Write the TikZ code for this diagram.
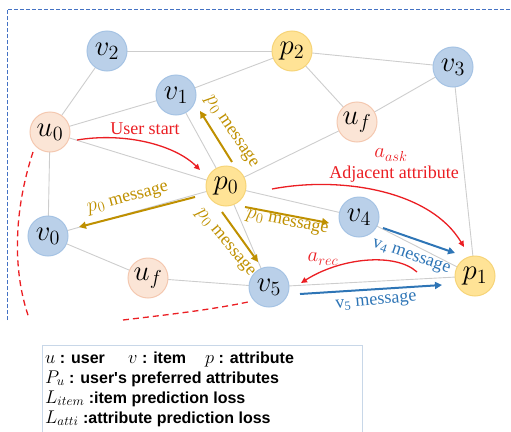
\RequirePackage{fix-cm}
\documentclass[tikz,border=0pt]{standalone}
\usepackage{fontspec}
\setmainfont{Liberation Serif}
\newfontfamily\legfont{Liberation Sans}
\usetikzlibrary{arrows.meta}
\definecolor{vblue}{RGB}{186,208,233}
\definecolor{vblueb}{RGB}{165,195,228}
\definecolor{pyel}{RGB}{255,227,150}
\definecolor{pyelb}{RGB}{246,212,120}
\definecolor{upch}{RGB}{251,229,214}
\definecolor{upchb}{RGB}{244,200,176}
\definecolor{edgegray}{RGB}{205,205,205}
\definecolor{gold}{RGB}{191,144,0}
\definecolor{mblue}{RGB}{46,117,182}
\definecolor{myred}{RGB}{235,30,35}
\definecolor{frameblue}{RGB}{68,114,196}
\definecolor{legb}{RGB}{200,215,232}
\newcommand\Gmath[1]{\scalebox{1.15}{$#1$}}
\newcommand\Lmath[1]{\scalebox{1.15}{$#1$}}
\newcommand\Nmath[1]{\scalebox{1.2}{$#1$}}
\begin{document}
\begin{tikzpicture}[x=1pt,y=-1pt,
  nd/.style={circle,minimum size=40pt,inner sep=0pt,line width=1pt,font=\fontsize{24}{24}\selectfont},
  vn/.style={nd,fill=vblue,draw=vblueb},
  pn/.style={nd,fill=pyel,draw=pyelb},
  un/.style={nd,fill=upch,draw=upchb},
  ed/.style={draw=edgegray,line width=0.9pt},
  garr/.style={gold,line width=2pt,-{Triangle[length=7pt,width=7pt]}},
  barr/.style={mblue,line width=2pt,-{Triangle[length=7pt,width=7pt]}},
  rarr/.style={myred,line width=1.3pt,-{Triangle[length=6pt,width=5.5pt]}},
  lab/.style={font=\fontsize{18}{20}\selectfont,inner sep=0pt},
  glab/.style={lab,text=gold},
  blab/.style={lab,text=mblue},
  rlab/.style={lab,text=myred},
  leg/.style={font=\fontsize{16}{18}\selectfont\legfont\bfseries,inner sep=0pt,anchor=base west}
]
\useasboundingbox (0,0) rectangle (511,431);

% frame
\draw[frameblue,line width=1pt,dash pattern=on 4pt off 2pt] (7,320) -- (7,9) -- (511,9);

% red dashed arcs
\draw[myred,line width=1.3pt,dash pattern=on 6pt off 4pt] (33,152) .. controls (14,210) and (12,270) .. (29,318);
\draw[myred,line width=1.3pt,dash pattern=on 6pt off 4pt] (123,320) .. controls (165,315) and (210,310) .. (248,302);

% node positions
\coordinate (v2) at (107,51);
\coordinate (v1) at (176,95);
\coordinate (u0) at (50,132);
\coordinate (p2) at (292,51);
\coordinate (v3) at (453,67);
\coordinate (uf1) at (357,122);
\coordinate (p0) at (226,186);
\coordinate (v0) at (48,236);
\coordinate (uf2) at (148,278);
\coordinate (v5) at (269,287);
\coordinate (v4) at (359,217);
\coordinate (p1) at (475,276);

% edges
\foreach \a/\b in {v2/p2,v2/u0,u0/v1,v1/p2,p2/v3,p2/uf1,uf1/v3,uf1/p0,v3/p1,u0/p0,u0/v0,v1/p0,p0/v0,p0/v4,p0/v5,v0/uf2,uf2/v5,v5/p1,v4/p1}
  \draw[ed] (\a) -- (\b);

% nodes
\node[vn] (nv2) at (v2) {\Nmath{v_2}};
\node[vn] (nv1) at (v1) {\Nmath{v_1}};
\node[un] (nu0) at (u0) {\Nmath{u_0}};
\node[pn] (np2) at (p2) {\Nmath{p_2}};
\node[vn] (nv3) at (v3) {\Nmath{v_3}};
\node[un] (nuf1) at (uf1) {\Nmath{u_f}};
\node[pn] (np0) at (p0) {\Nmath{p_0}};
\node[vn] (nv0) at (v0) {\Nmath{v_0}};
\node[un] (nuf2) at (uf2) {\Nmath{u_f}};
\node[vn] (nv5) at (v5) {\Nmath{v_5}};
\node[vn] (nv4) at (v4) {\Nmath{v_4}};
\node[pn] (np1) at (p1) {\Nmath{p_1}};

% arrow end coordinates
\coordinate (us1) at (77,140);   \coordinate (us2) at (200,170);
\coordinate (g1a) at (232,162);  \coordinate (g1b) at (200,111);
\coordinate (g2a) at (195,197);  \coordinate (g2b) at (79,227);
\coordinate (g3a) at (222,212);  \coordinate (g3b) at (258,262);
\coordinate (g4a) at (245,207);  \coordinate (g4b) at (329,223);
\coordinate (aa1) at (272,189);  \coordinate (aa2) at (464,247);
\coordinate (b4a) at (383,228);  \coordinate (b4b) at (455,253);
\coordinate (ar1) at (417,272);  \coordinate (ar2) at (301,283);
\coordinate (b5a) at (300,294);  \coordinate (b5b) at (442,285);

% red arrows
\draw[rarr] (us1) .. controls (125,132) and (175,145) .. (us2);
\draw[rarr] (aa1) .. controls (340,176) and (430,190) .. (aa2);
\draw[rarr] (ar1) .. controls (395,252) and (340,258) .. (ar2);

% gold arrows
\draw[garr] (g1a) -- (g1b);
\draw[garr] (g2a) -- (g2b);
\draw[garr] (g3a) -- (g3b);
\draw[garr] (g4a) -- (g4b);

% blue arrows
\draw[barr] (b4a) -- (b4b);
\draw[barr] (b5a) -- (b5b);

% labels
\node[rlab] (lus) at (145,129) {User start};
\node[rlab] (lask) at (391,155) {\Gmath{a_{ask}}};
\node[rlab] (ladj) at (394,174) {Adjacent attribute};
\node[rlab] (lrec) at (323,259) {\Gmath{a_{rec}}};
\node[glab,rotate=-56] (lg1) at (231,132) {\Gmath{p_0} message};
\node[glab,rotate=15] (lg2) at (128,199) {\Gmath{p_0} message};
\node[glab,rotate=-50] (lg3) at (225,243) {\Gmath{p_0} message};
\node[glab,rotate=-11] (lg4) at (287,223) {\Gmath{p_0} message};
\node[blab,rotate=-19] (lb4) at (411,257) {v\textsubscript{4} message};
\node[blab,rotate=5] (lb5) at (376,302) {v\textsubscript{5} message};

% legend
\draw[legb,line width=1pt,fill=white] (42,440) -- (42,345) -- (362,345) -- (362,440);
\node[leg] (l1a) at (45,363) {\Lmath{u} : user};
\node[leg] (l1b) at (128,363) {\Lmath{v} : item};
\node[leg] (l1c) at (205,363) {\Lmath{p} : attribute};
\node[leg] (l2) at (45,383) {\Lmath{P_u} : user's preferred attributes};
\node[leg] (l3) at (45,403) {\Lmath{L_{item}} :item prediction loss};
\node[leg] (l4) at (45,423) {\Lmath{L_{atti}} :attribute prediction loss};
\end{tikzpicture}
\end{document}
